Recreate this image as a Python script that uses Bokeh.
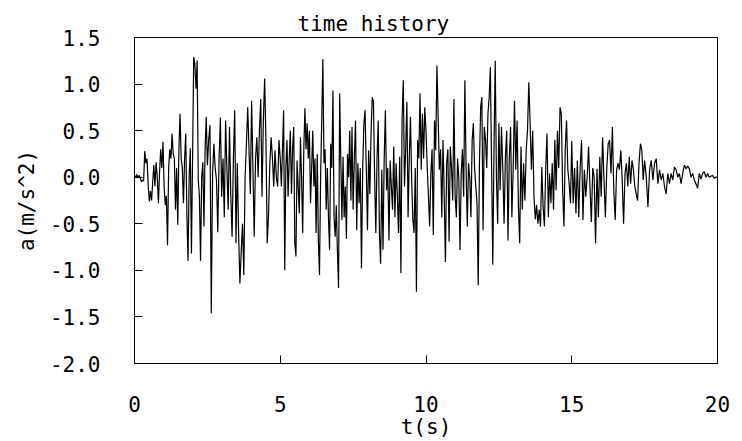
import numpy as np
from bokeh.plotting import figure
from bokeh.models import Range1d, FixedTicker, PrintfTickFormatter
from bokeh.embed import file_html
from bokeh.resources import INLINE

# acceleration readings (m/s^2), per 2.5-second block
a_00_025 = [0.02, 0.0, 0.03, -0.01, 0.02, 0.0, -0.05, -0.03, -0.04,
            0.28, 0.15, 0.20, -0.08, -0.26, -0.15, -0.25, -0.05, 0.13, -0.10, 0.16, 0.0, -0.28,
            0.05, 0.30, 0.10, 0.38, -0.10, -0.30, -0.20, -0.73, 0.10, 0.30, 0.20, 0.47, 0.25,
            0.20, -0.35, 0.10, -0.51, 0.30, 0.68, 0.20, 0.10, -0.28, 0.20, 0.47, -0.40, -0.90,
            0.0, 0.31, -0.82, 0.20,
            1.29, 1.22, 0.95, 1.25, -0.03, -0.20, -0.90, 0.0, 0.16, -0.53, 0.30, 0.65]
a_025_05 = [0.13, 0.40, 0.56, -1.46, 0.04, 0.36, 0.10, -0.03, -0.59, 0.20, 0.64, -0.21, 0.20,
            -0.43, 0.61, 0.10, -0.35, 0.54, -0.20, -0.64, 0.20, 0.72, -0.71, 0.15, -0.60, -1.14,
            -0.80, -0.50, -1.05, 0.0, 0.36, 0.75, 0.30, -0.18, 0.82, 0.10, -0.64, 0.20, 0.43,
            0.0, 0.50, 0.84, -0.21, 0.60, 1.06, 0.40, -0.71, -0.40, 0.15, 0.43, 0.20, -0.10,
            0.29, 0.0, -0.10, 0.40]
a_05_075 = [0.20, -0.10, 0.30, 0.72, -1.00, 0.10, 0.40, -0.21, 0.20, 0.50, -0.18, 0.30, 0.54,
            -0.71, -0.85, 0.18, -0.10, -0.39, 0.43, 0.0, -0.60, 0.30, 0.74, 0.30, 0.58, 0.20,
            0.50, -0.28, 0.10, 0.50, -0.10, 0.20, -0.60, 0.25, -0.68, -1.05, 0.0, 0.61, 1.27,
            0.15, 0.30, -0.35, 0.10, -0.43, -0.78, 0.36, 0.10, 0.93, -0.43, -0.64, -0.30, -0.80,
            -1.19, 0.90, 0.20, -0.46, 0.22, -0.43, -0.10, -0.66, 0.25, 0.0, 0.50, -0.25, 0.54]
a_075_10 = [-0.35, 0.20, 0.61, -0.57, 0.15, -0.28, 0.10, -0.98, 0.08, 0.58, 0.72, 0.10, -0.57,
            0.29, -0.18, 0.47, 0.86, 0.81, 0.0, -0.60, 0.20, 0.61, -0.60, -0.93, 0.08, -0.78,
            0.20, 0.72, -0.14, 0.10, -0.68, 0.18, -0.10, -0.35, 0.33, -0.43, 0.15, -0.20, -0.60,
            0.22, -1.03, 0.65, 1.04, -0.10, 0.30, 0.81, -0.43, 0.20, 0.65, -0.03, -0.45, -0.60,
            0.10, -1.23, 0.40, 0.20, 0.90, 0.08, 0.68, 0.20, 0.75]
a_10_125 = [0.50, 0.11, -0.20, -0.53, 0.04, 0.30, -0.62, 0.61, 0.29, 1.20, 0.65, 0.08, 0.30,
            -0.43, 0.40, -0.20, -0.91, 0.15, 0.30, -0.69, 0.33, 0.10, -0.25, 0.84, -0.20, -0.43,
            0.20, 0.0, -0.78, 0.04, 0.30, -0.21, 1.04, 0.10, -0.53, 0.15, 0.0, -0.43, 0.40, 0.58,
            0.10, -0.10, -0.28, -1.16, 0.15, 0.75, 0.86, -0.57, 0.54, 0.40, 0.10, 0.68, 0.86,
            1.18, 0.11, -0.94, 0.33, 1.25, 0.0, -0.50]
a_125_15 = [0.58, -0.14, 0.54, 0.10, -0.50, 0.20, 0.50, -0.68, 0.20, 0.54, -0.43, 0.10, 0.82,
            0.08, 0.61, -0.30, -0.71, 0.33, -0.35, 0.15, -0.25, 0.29, 0.50, 1.02, 0.58, 0.08,
            0.50, -0.21, -0.45, -0.30, -0.50, -0.35, -0.53, 0.11, -0.32, -0.53, 0.10, 0.47,
            -0.43, 0.04, -0.28, 0.15, -0.35, 0.40, -0.14, 0.50, 0.10, 0.75, 0.68, -0.14, -0.53,
            0.30, 0.61, 0.08, -0.07, -0.28]
a_15_175 = [0.39, -0.28, 0.10, -0.39, 0.18, -0.43, 0.10, 0.40, -0.46, 0.08, -0.21, 0.0, 0.33,
            -0.10, -0.48, 0.10, 0.0, -0.71, 0.09, -0.43, 0.22, -0.21, 0.43, -0.03, -0.43, 0.10,
            0.36, 0.40, 0.04, 0.54, -0.14, -0.46, 0.08, 0.15, 0.08, 0.29, -0.03, -0.50, 0.04,
            0.15, -0.10, 0.22, -0.07, 0.18, 0.08, -0.10, -0.18, -0.25, 0.15, 0.36, 0.29, -0.03]
a_175_20 = [0.18, 0.0, -0.32, 0.08, 0.18, -0.03, 0.15, 0.20, -0.07, 0.08, -0.03, 0.04, -0.10,
            -0.18, 0.04, -0.07, 0.04, -0.03, 0.11, 0.08, 0.0, 0.04, -0.07, 0.04, 0.13, 0.09,
            0.12, 0.09, 0.0, 0.04, -0.03, -0.07, -0.12, 0.04, -0.02, 0.04, 0.06, 0.0, 0.04, 0.0,
            0.01, 0.02, -0.01, 0.0, 0.0]

blocks = [(0.0, 2.5, a_00_025), (2.5, 5.0, a_025_05), (5.0, 7.5, a_05_075), (7.5, 10.0, a_075_10),
          (10.0, 12.5, a_10_125), (12.5, 15.0, a_125_15), (15.0, 17.5, a_15_175),
          (17.5, 20.0, a_175_20)]
x_ticks = [0, 5, 10, 15, 20]
y_ticks = [-2.0, -1.5, -1.0, -0.5, 0.0, 0.5, 1.0, 1.5]

t_all, a_all = [], []
for i, (t0, t1, vals) in enumerate(blocks):
    last = i == len(blocks) - 1
    t_all.extend(np.linspace(t0, t1, len(vals), endpoint=last))
    a_all.extend(vals)

FONT = "DejaVu Sans Mono"
FS = "21px"

p = figure(width=742, height=441, output_backend="svg", toolbar_location=None,
           x_range=Range1d(0, 20), y_range=Range1d(-2.0, 1.5),
           min_border_left=134, min_border_right=25, min_border_top=37, min_border_bottom=78,
           title="time history")
p.line(t_all, a_all, line_color="black", line_width=1.2)

p.title.text_font = FONT
p.title.text_font_size = FS
p.title.text_font_style = "normal"
p.title.text_color = "black"
p.title.align = "left"
p.title.offset = 163
p.title.standoff = 4

p.grid.visible = False
p.outline_line_color = "black"
p.outline_line_width = 1
p.outline_line_alpha = 1
p.background_fill_color = "white"
p.border_fill_color = "white"

for ax in (p.xaxis[0], p.yaxis[0]):
    ax.axis_line_color = "black"
    ax.major_tick_line_color = "black"
    ax.major_tick_in = 8
    ax.major_tick_out = 0
    ax.minor_tick_line_color = None
    ax.major_label_text_font = FONT
    ax.major_label_text_font_size = FS
    ax.major_label_text_color = "black"
    ax.axis_label_text_font = FONT
    ax.axis_label_text_font_size = FS
    ax.axis_label_text_font_style = "normal"
    ax.axis_label_text_color = "black"

p.xaxis.ticker = FixedTicker(ticks=x_ticks)
p.xaxis.formatter = PrintfTickFormatter(format="%d")
p.xaxis.major_label_standoff = 32
p.xaxis.axis_label = "t(s)"
p.xaxis.axis_label_standoff = 0

p.yaxis.ticker = FixedTicker(ticks=y_ticks)
p.yaxis.formatter = PrintfTickFormatter(format="%.1f")
p.yaxis.major_label_standoff = 34
p.yaxis.axis_label = "a(m/s^2)"
p.yaxis.axis_label_standoff = 8

open("out.html", "w").write(file_html(p, INLINE))
